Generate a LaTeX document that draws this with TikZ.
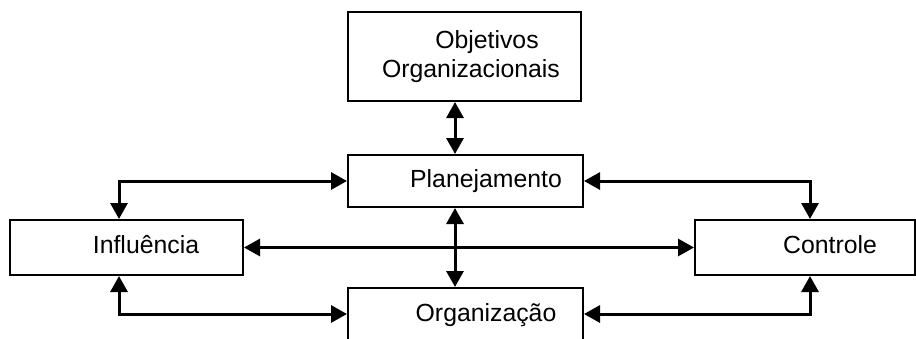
\documentclass[tikz,border=0pt]{standalone}
\usepackage{fontspec}
\setmainfont{Liberation Sans}
\usepackage{tikz}
\usetikzlibrary{arrows.meta,positioning}

\tikzset{
    caixa/.style={draw, rectangle, line width=1pt, inner sep=0pt},
    rotulo/.style={font=\fontsize{12.4}{14.5}\selectfont, anchor=base, align=center},
    seta/.style={<->, >={Triangle[length=8pt,width=8.5pt]}, line width=1.5pt},
}

\begin{document}
\begin{tikzpicture}[x=0.5pt,y=-0.5pt]
        \useasboundingbox (0,0) rectangle (916,338);
        \clip (0,0) rectangle (916,338);

        \node[caixa, minimum width=116.5pt, minimum height=44.5pt] (obj) at (464.5,56.5) {};
        \node[caixa, minimum width=117.5pt, minimum height=26pt] (plan) at (465.5,181) {};
        \node[caixa, minimum width=117.5pt, minimum height=26pt] (org) at (465.5,314) {};
        \node[caixa, minimum width=116.5pt, minimum height=27.5pt] (infl) at (126.5,247.5) {};
        \node[caixa, minimum width=110pt, minimum height=27.5pt] (ctrl) at (805,247.5) {};

        \node[rotulo] (tobj1) at (487,48) {Objetivos};
        \node[rotulo] (tobj2) at (471,77) {Organizacionais};
        \node[rotulo] (tplan) at (486,187) {Planejamento};
        \node[rotulo] (torg) at (486,321) {Organização};
        \node[rotulo] (tinfl) at (146,253) {Influência};
        \node[rotulo] (tctrl) at (830,253) {Controle};

        % colunas das setas
        \coordinate (cx) at (455,0);
        \coordinate (lx) at (119,0);
        \coordinate (rx) at (810,0);

        \draw[seta] (obj.south -| cx) -- (plan.north -| cx);
        \draw[seta] (plan.south -| cx) -- (org.north -| cx);
        \draw[seta] (infl.east) -- (ctrl.west);

        \draw[seta] (infl.north -| lx) |- (plan.west);
        \draw[seta] (infl.south -| lx) |- (org.west);
        \draw[seta] (ctrl.north -| rx) |- (plan.east);
        \draw[seta] (ctrl.south -| rx) |- (org.east);
    \end{tikzpicture}
\end{document}
